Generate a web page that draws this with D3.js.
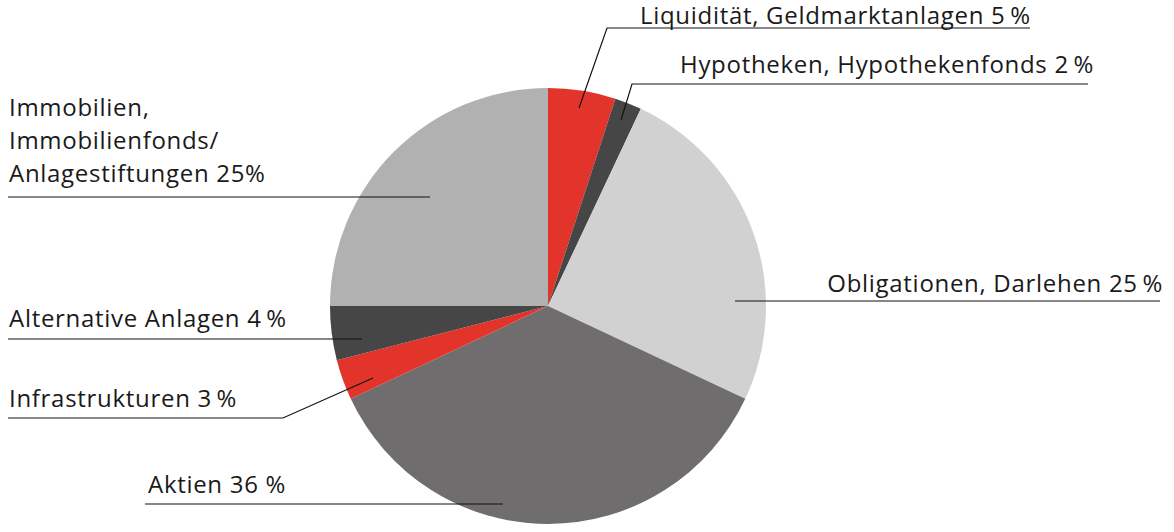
<!DOCTYPE html>
<html>
<head>
<meta charset="utf-8">
<script src="https://cdn.jsdelivr.net/npm/d3@7"></script>
<style>
  body { margin: 0; background: #fff; }
  svg { display: block; }
  .label { font-family: "Open Sans", sans-serif; font-weight: 400; font-size: 24px; letter-spacing: 0.7px; fill: #1a1a1a; }
  .leader { stroke: #111; stroke-width: 1.2; fill: none; }
</style>
</head>
<body>
<svg id="chart" width="1174" height="532"></svg>
<script>
// slices, clockwise from 12 o'clock
const categories = [
  "Liquidität, Geldmarktanlagen",
  "Hypotheken, Hypothekenfonds",
  "Obligationen, Darlehen",
  "Aktien",
  "Infrastrukturen",
  "Alternative Anlagen",
  "Immobilien, Immobilienfonds/ Anlagestiftungen"
];
const shares = [5, 2, 25, 36, 3, 4, 25];
const sliceColors = ["#e3342b", "#464646", "#d1d1d1", "#6f6d6e", "#e3342b", "#464646", "#b1b1b1"];

// label text lines (as printed)
const labelLines = [
  ["Liquidität, Geldmarktanlagen 5\u2009%"],
  ["Hypotheken, Hypothekenfonds 2\u2009%"],
  ["Obligationen, Darlehen 25\u2009%"],
  ["Aktien 36 %"],
  ["Infrastrukturen 3\u2009%"],
  ["Alternative Anlagen 4\u2009%"],
  ["Immobilien,", "Immobilienfonds/", "Anlagestiftungen 25%"]
];

// where each label sits and its leader polyline
const labelLayout = [
  { x: 640, y: 24, anchor: "start", path: [[579, 108], [607, 28], [1030, 28]] },
  { x: 680, y: 73, anchor: "start", path: [[621, 120], [632, 84], [1088, 84]] },
  { x: 1163, y: 292, anchor: "end", path: [[735, 301], [1160, 301]] },
  { x: 148, y: 493, anchor: "start", path: [[145, 504], [503, 504]] },
  { x: 9, y: 407, anchor: "start", path: [[8, 418], [283, 418], [373, 378]] },
  { x: 9, y: 327, anchor: "start", path: [[8, 339], [362, 339]] },
  { x: 9, y: 116, anchor: "start", path: [[8, 197], [430, 197]] }
];

const svg = d3.select("#chart");
const cx = 548, cy = 306, radius = 218;

const pie = d3.pie().sort(null).value(d => d);
const arc = d3.arc().innerRadius(0).outerRadius(radius);

const g = svg.append("g").attr("transform", `translate(${cx},${cy})`);
g.selectAll("path.slice")
  .data(pie(shares))
  .enter().append("path")
  .attr("class", "slice")
  .attr("d", arc)
  .attr("fill", (d, i) => sliceColors[i]);

const line = d3.line();
svg.selectAll("path.leader")
  .data(labelLayout)
  .enter().append("path")
  .attr("class", "leader")
  .attr("d", d => line(d.path));

svg.selectAll("text.label")
  .data(labelLayout)
  .enter().append("text")
  .attr("class", "label")
  .attr("x", d => d.x)
  .attr("y", d => d.y)
  .attr("text-anchor", d => d.anchor)
  .each(function (d, i) {
    const t = d3.select(this);
    labelLines[i].forEach((s, k) => {
      t.append("tspan").attr("x", d.x).attr("dy", k === 0 ? 0 : 33).text(s);
    });
  });
</script>
</body>
</html>
